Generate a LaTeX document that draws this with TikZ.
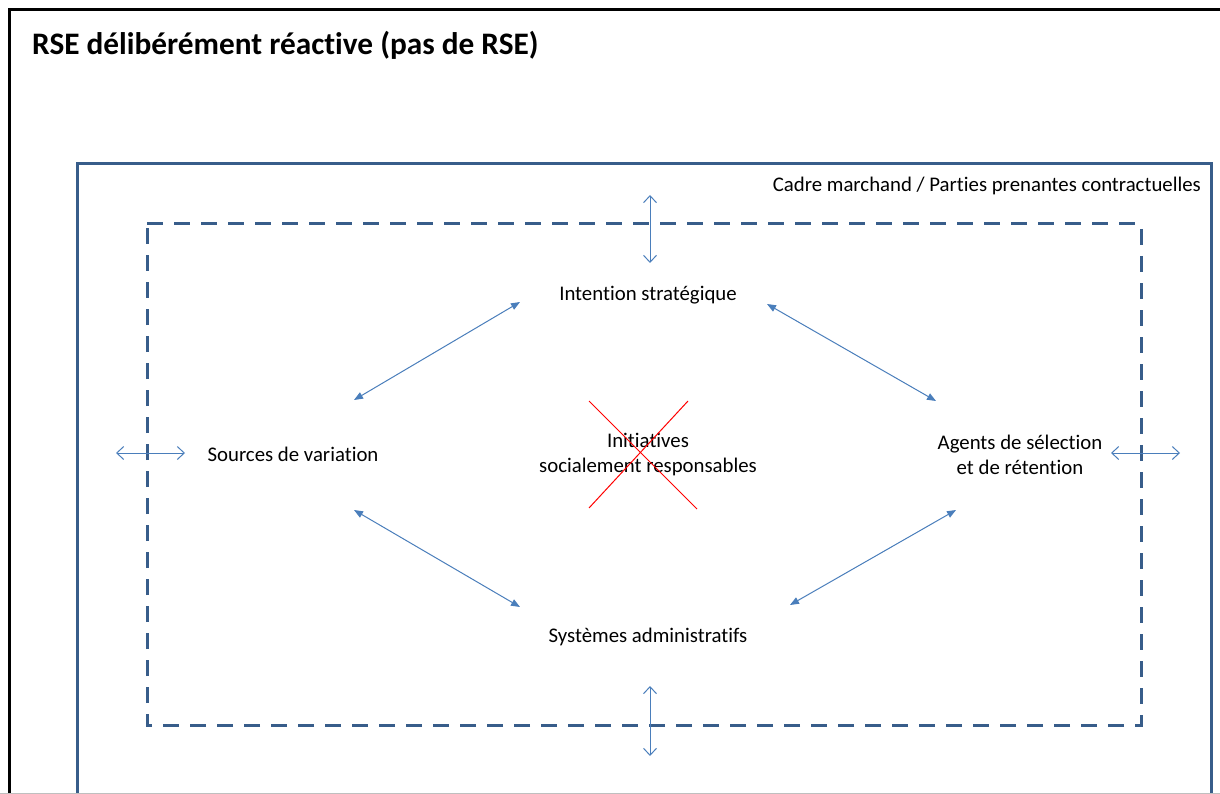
\documentclass[tikz,border=0pt]{standalone}
\usepackage{fontspec}
\setmainfont[Ligatures=NoCommon]{Carlito}
\usetikzlibrary{arrows.meta}
\definecolor{frameblue}{RGB}{56,93,138}
\definecolor{arrowblue}{RGB}{74,126,187}
\begin{document}
\begin{tikzpicture}[x=1pt,y=-1pt,
  lbl/.style={font=\fontsize{20.8}{25}\selectfont, align=center, inner sep=0pt, text=black},
  solidarrow/.style={draw=arrowblue, line width=1pt, {Triangle[length=9pt,width=7pt]}-{Triangle[length=9pt,width=7pt]}},
  openarrow/.style={draw=arrowblue, line width=1pt, {Straight Barb[length=7pt,width=13pt]}-{Straight Barb[length=7pt,width=13pt]}},
  cross/.style={draw=red, line width=1pt}]
\useasboundingbox (0,0) rectangle (1220,794);
\clip (0,0) rectangle (1220,794);
% outer frame
\draw[black, line width=3pt] (9.5,9.5) rectangle (1240,820);
\node[anchor=base west, inner sep=0pt, font=\fontsize{31.3}{36}\bfseries\selectfont] (title) at (32,55) {RSE délibérément réactive (pas de RSE)};
% market frame
\draw[frameblue, line width=3pt] (77.5,164) rectangle (1211,820);
\draw[line width=1pt, black!25] (0,793.5) -- (1220,793.5);
\node[lbl, anchor=base east] (cadre) at (1201,192) {Cadre marchand / Parties prenantes contractuelles};
% dashed frame
\draw[frameblue, line width=3pt, dash pattern=on 16pt off 11pt] (147,224) -- (1141,224) -- (1141,725) -- (147,725) -- cycle;
% labels
\node[lbl] (intention) at (648,295) {Intention stratégique};
\node[lbl] (sources) at (293,454) {Sources de variation};
\node[lbl] (initiatives) at (648,455) {Initiatives\\socialement responsables};
\node[lbl] (agents) at (1020,455) {Agents de sélection\\et de rétention};
\node[lbl] (systemes) at (648,637) {Systèmes administratifs};
% arrow end points
\coordinate (s1) at (354,400); \coordinate (i1) at (520,302);
\coordinate (i2) at (767,304); \coordinate (a1) at (936,401);
\coordinate (s2) at (354,510); \coordinate (y1) at (520,607);
\coordinate (y2) at (790,605); \coordinate (a2) at (956,510);
\draw[solidarrow] (s1) -- (i1);
\draw[solidarrow] (i2) -- (a1);
\draw[solidarrow] (s2) -- (y1);
\draw[solidarrow] (y2) -- (a2);
% boundary arrows
\coordinate (t1) at (650,195); \coordinate (t2) at (650,263);
\coordinate (b1) at (650,686); \coordinate (b2) at (650,756);
\coordinate (l1) at (116,453); \coordinate (l2) at (185,453);
\coordinate (r1) at (1111,453); \coordinate (r2) at (1180,453);
\draw[openarrow] (t1) -- (t2);
\draw[openarrow] (b1) -- (b2);
\draw[openarrow] (l1) -- (l2);
\draw[openarrow] (r1) -- (r2);
% red cross
\coordinate (x1) at (589,401); \coordinate (x2) at (697,509);
\coordinate (x3) at (688,401); \coordinate (x4) at (589,508);
\draw[cross] (x1) -- (x2);
\draw[cross] (x3) -- (x4);
\end{tikzpicture}
\end{document}
